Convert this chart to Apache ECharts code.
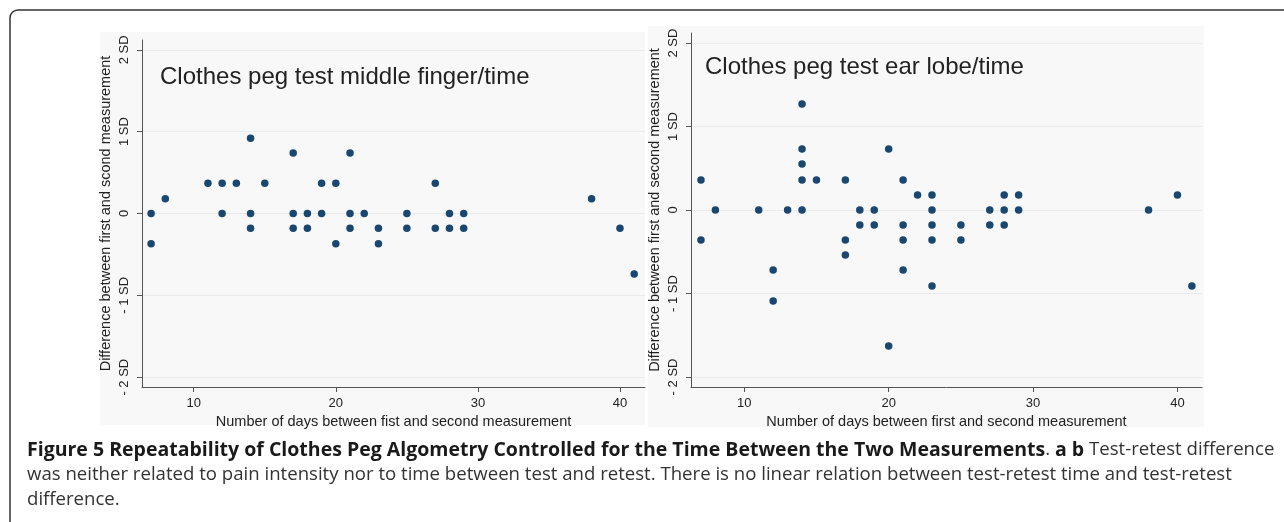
<!DOCTYPE html>
<html>
<head>
<meta charset="utf-8">
<script src="https://cdn.jsdelivr.net/npm/echarts@6/dist/echarts.min.js"></script>
<style>
  html, body { margin: 0; padding: 0; background: #fff; }
  #main { width: 1284px; height: 522px; }
</style>
</head>
<body>
<div id="main"></div>
<script>
// panel a: middle finger, days between measurements vs difference (in SD)
var fingerDays = [7, 7, 8, 11, 12, 13, 14, 15, 17, 19, 20, 21, 27, 38,
  12, 14, 17, 18, 19, 21, 22, 25, 28, 29,
  14, 17, 18, 21, 23, 25, 27, 28, 29, 40,
  20, 23, 41];
var fingerDiff = [0, -0.37, 0.18, 0.37, 0.37, 0.37, 0.92, 0.37, 0.74, 0.37, 0.37, 0.74, 0.37, 0.18,
  0, 0, 0, 0, 0, 0, 0, 0, 0, 0,
  -0.18, -0.18, -0.18, -0.18, -0.18, -0.18, -0.18, -0.18, -0.18, -0.18,
  -0.37, -0.37, -0.74];

// panel b: ear lobe
var earDays = [7, 14, 15, 17, 21,
  14, 14, 20, 14,
  22, 23, 28, 29, 40,
  8, 11, 13, 14, 18, 19, 23, 27, 28, 29, 38,
  18, 19, 21, 23, 25, 27, 28,
  7, 17, 21, 23, 25,
  17, 12, 21, 23, 41, 12, 20];
var earDiff = [0.36, 0.36, 0.36, 0.36, 0.36,
  1.27, 0.73, 0.73, 0.55,
  0.18, 0.18, 0.18, 0.18, 0.18,
  0, 0, 0, 0, 0, 0, 0, 0, 0, 0, 0,
  -0.18, -0.18, -0.18, -0.18, -0.18, -0.18, -0.18,
  -0.36, -0.36, -0.36, -0.36, -0.36,
  -0.54, -0.72, -0.72, -0.91, -0.91, -1.09, -1.63];

var xTicks = [10, 20, 30, 40];
var yTicks = [-2, -1, 0, 1, 2];
var yTickLabels = ['- 2 SD', '- 1 SD', '0', '1 SD', '2 SD'];

var panelTitles = ['Clothes peg test middle finger/time', 'Clothes peg test ear lobe/time'];
var yNames = ['Difference between first and scond measurement', 'Difference between first and second measurement'];
var xNames = ['Number of days between fist and second measurement', 'Number of days between first and second measurement'];

var chartFont = 'Liberation Sans, Arial, sans-serif';
var capFont = '"Open Sans"';
var ink = '#222';

function pairs(xs, ys) {
  return xs.map(function (x, i) { return [x, ys[i]]; });
}

function xAxisFor(idx, min, max) {
  return {
    type: 'value', gridIndex: idx, min: min, max: max,
    name: xNames[idx], nameLocation: 'middle', nameGap: 23,
    nameTextStyle: { fontFamily: chartFont, fontSize: 14.5, color: ink },
    axisLine: { show: true, onZero: false, lineStyle: { color: '#555', width: 1 } },
    axisTick: { show: true, length: 5, lineStyle: { color: '#555' }, customValues: xTicks },
    axisLabel: { fontFamily: chartFont, fontSize: 13, color: ink, margin: 10, customValues: xTicks },
    splitLine: { show: false }
  };
}

function yAxisFor(idx) {
  return {
    type: 'value', gridIndex: idx, min: -2.12, max: 2.12,
    name: yNames[idx], nameLocation: 'middle', nameGap: 29,
    nameTextStyle: { fontFamily: chartFont, fontSize: 14.5, color: ink },
    axisLine: { show: true, onZero: false, lineStyle: { color: '#555', width: 1 } },
    axisTick: { show: true, length: 5, lineStyle: { color: '#555' }, customValues: yTicks },
    axisLabel: {
      fontFamily: chartFont, fontSize: 13, color: ink, rotate: 90, margin: 11,
      customValues: yTicks,
      formatter: function (v) { return yTickLabels[yTicks.indexOf(Math.round(v))]; }
    },
    splitLine: { show: true, lineStyle: { color: '#e9ecee', width: 1 } }
  };
}

var chart = echarts.init(document.getElementById('main'), null, { renderer: 'canvas' });

chart.setOption({
  backgroundColor: '#fff',
  animation: false,
  title: [{
    text: panelTitles[0], left: 160, top: 65, padding: 0,
    textStyle: { fontFamily: chartFont, fontSize: 24, fontWeight: 'normal', color: ink }
  }, {
    text: panelTitles[1], left: 705, top: 55, padding: 0,
    textStyle: { fontFamily: chartFont, fontSize: 24, fontWeight: 'normal', color: ink }
  }],
  graphic: [
    // outer frame of the figure
    { type: 'rect', z: -10, shape: { x: 10, y: 10, width: 1300, height: 520, r: 8 },
      style: { fill: 'none', stroke: '#333', lineWidth: 1.5 } },
    // graph region backgrounds
    { type: 'rect', z: -9, shape: { x: 100, y: 32, width: 545, height: 393 },
      style: { fill: '#f8f8f8' } },
    { type: 'rect', z: -9, shape: { x: 648, y: 26, width: 556, height: 401 },
      style: { fill: '#f8f8f8' } },
    // caption
    { type: 'text', x: 27, y: 450,
      style: {
        text: '{b|Figure 5 Repeatability of Clothes Peg Algometry Controlled for the Time Between the Two Measurements}. {b|a b} Test-retest difference',
        font: '18.6px ' + capFont, fill: '#333', verticalAlign: 'middle',
        rich: { b: { fontWeight: 'bold', fontFamily: 'Open Sans', fontSize: 19.5, fill: '#1a1a1a' } }
      } },
    { type: 'text', x: 27, y: 475,
      style: {
        text: 'was neither related to pain intensity nor to time between test and retest. There is no linear relation between test-retest time and test-retest',
        font: '18.6px ' + capFont, fill: '#333', verticalAlign: 'middle'
      } },
    { type: 'text', x: 27, y: 500,
      style: { text: 'difference.', font: '18.6px ' + capFont, fill: '#333', verticalAlign: 'middle' } }
  ],
  grid: [
    { left: 142, top: 40, width: 503, height: 347, containLabel: false },
    { left: 691, top: 33, width: 511, height: 354, containLabel: false }
  ],
  xAxis: [xAxisFor(0, 6.36, 41.76), xAxisFor(1, 6.31, 41.7)],
  yAxis: [yAxisFor(0), yAxisFor(1)],
  series: [{
    type: 'scatter', xAxisIndex: 0, yAxisIndex: 0,
    symbolSize: 7.5, itemStyle: { color: '#1a476f', opacity: 1 },
    data: pairs(fingerDays, fingerDiff)
  }, {
    type: 'scatter', xAxisIndex: 1, yAxisIndex: 1,
    symbolSize: 7.5, itemStyle: { color: '#1a476f', opacity: 1 },
    data: pairs(earDays, earDiff)
  }]
});
</script>
</body>
</html>
